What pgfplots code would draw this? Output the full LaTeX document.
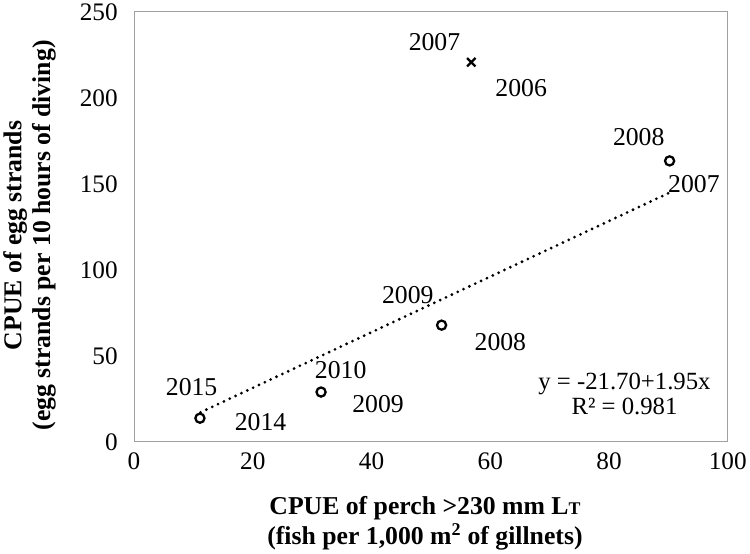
\documentclass[border=0pt]{standalone}
\usepackage{fontspec}
\setmainfont{Liberation Serif}
\usepackage{pgfplots}
\pgfplotsset{compat=1.18}
\definecolor{framegray}{RGB}{160,160,160}
\begin{document}
\begin{tikzpicture}
\begin{axis}[
  width=598bp, height=433bp, scale only axis,
  xmin=0, xmax=100, ymin=0, ymax=250,
  xtick={0,20,40,60,80,100}, ytick={0,50,100,150,200,250},
  major tick length=0pt,
  axis line style={draw=framegray, line width=1bp},
  /pgf/number format/assume math mode=true,
  tick label style={font=\fontsize{25.5}{28}\selectfont},
  yticklabel style={xshift=-13bp},
  xticklabel style={yshift=-8bp},
  clip=false,
  xlabel={CPUE of perch >230 mm L{\fontsize{18}{20}\selectfont T}\\(fish per 1,000 m\textsuperscript{2} of gillnets)},
  ylabel={CPUE of egg strands\\(egg strands per 10 hours of diving)},
  xlabel style={at={(axis description cs:0.49,-0.19)}, anchor=center, align=center, font=\fontsize{26}{30}\selectfont\bfseries},
  ylabel style={at={(axis description cs:-0.176,0.48)}, anchor=center, align=center, font=\fontsize{26}{29}\selectfont\bfseries},
]
% trend line
\addplot[black, line width=3.1bp, dash pattern=on 0bp off 6.5bp, line cap=round] coordinates {(11.2,17.1) (90.1,144.7)};
% circles
\addplot[only marks, mark=o, mark size=4.6bp, mark options={black, line width=2.3bp}] coordinates {
  (11.1,13.7) (31.5,28.9) (51.8,67.8) (90.2,163.3)
};
% cross
\addplot[only marks, mark=x, mark size=6bp, mark options={black, line width=2.3bp}] coordinates {
  (56.8,220.7)
};
\begin{scope}[every node/.style={font=\fontsize{26}{30}\selectfont, inner sep=0pt}]
\node at (axis cs:50.6,232.4) {2007};
\node at (axis cs:65.2,205.8) {2006};
\node at (axis cs:85.0,177.0) {2008};
\node at (axis cs:94.3,149.8) {2007};
\node at (axis cs:46.1,85.2) {2009};
\node at (axis cs:61.7,58.0) {2008};
\node at (axis cs:34.8,41.9) {2010};
\node at (axis cs:41.1,21.7) {2009};
\node at (axis cs:9.7,31.5) {2015};
\node at (axis cs:21.3,11.3) {2014};
\end{scope}
\node[align=center, font=\fontsize{25}{26}\selectfont, inner sep=0pt] at (axis cs:82.6,27.8) {y = -21.70+1.95x\\R² = 0.981};
\end{axis}
\end{tikzpicture}
\end{document}
